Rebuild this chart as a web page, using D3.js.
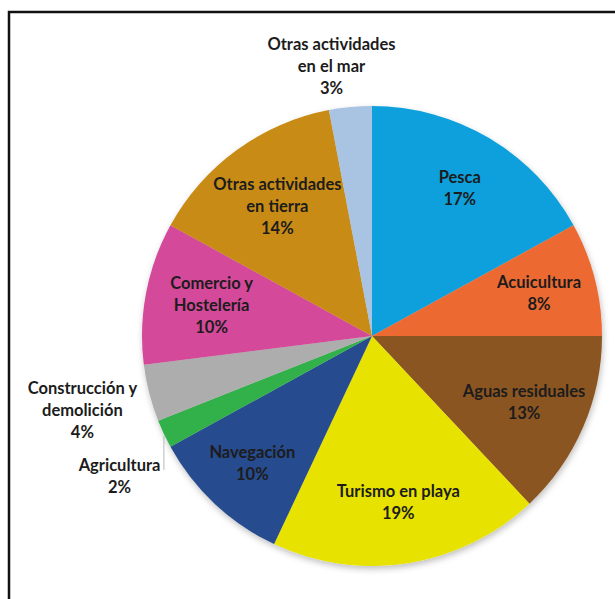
<!DOCTYPE html>
<html>
<head>
<meta charset="utf-8">
<script src="https://cdn.jsdelivr.net/npm/d3@7"></script>
<style>
  html, body { margin: 0; padding: 0; background: #fff; }
  svg { display: block; }
  text { font-family: Lato, "Open Sans", sans-serif; font-weight: 700; font-size: 16.5px; fill: #1c1c1c; }
</style>
</head>
<body>
<div id="chart"></div>
<script>
// Data -------------------------------------
var categories = [
  ['Pesca'],
  ['Acuicultura'],
  ['Aguas residuales'],
  ['Turismo en playa'],
  ['Navegación'],
  ['Agricultura'],
  ['Construcción y', 'demolición'],
  ['Comercio y', 'Hostelería'],
  ['Otras actividades', 'en tierra'],
  ['Otras actividades', 'en el mar']
];
var values = [17, 8, 13, 19, 10, 2, 4, 10, 14, 3];
var colors = ['#0aa0dc', '#ec6a30', '#8b5522', '#e8e200', '#264b8e',
              '#30b04a', '#adadad', '#d4499a', '#c88b12', '#a9c3e3'];

// Layout -------------------------------------
var width = 615, height = 599;
var cx = 372, cy = 336, radius = 230;
var lineH = 22;
// label distance from centre, as a share of the radius
var labelR = [0.75, 0.75, 0.72, 0.73, 0.76, 1.0, 1.3, 0.71, 0.70, 1.18];

var svg = d3.select('#chart').append('svg')
  .attr('width', width)
  .attr('height', height);

// soft shadow under the pie
var defs = svg.append('defs');
var f = defs.append('filter').attr('id', 'shadow')
  .attr('x', '-10%').attr('y', '-10%').attr('width', '120%').attr('height', '120%');
f.append('feDropShadow')
  .attr('dx', 1).attr('dy', 3).attr('stdDeviation', 3)
  .attr('flood-color', '#000').attr('flood-opacity', 0.25);

// frame (left and top edges)
svg.append('path')
  .attr('d', 'M9,' + height + 'V12H' + width)
  .attr('fill', 'none')
  .attr('stroke', '#111')
  .attr('stroke-width', 2.5);

var g = svg.append('g')
  .attr('transform', 'translate(' + cx + ',' + cy + ')');

var pie = d3.pie().value(function(d) { return d; }).sort(null);
var arcs = pie(values);

var arc = d3.arc().innerRadius(0).outerRadius(radius);

g.append('g').attr('filter', 'url(#shadow)')
  .selectAll('path')
  .data(arcs)
  .enter()
  .append('path')
  .attr('d', arc)
  .attr('fill', function(d, i) { return colors[i]; });

// Labels -------------------------------------
function polar(a, r) {
  return [Math.sin(a) * r, -Math.cos(a) * r];
}

arcs.forEach(function(d, i) {
  var mid = (d.startAngle + d.endAngle) / 2;
  var lines = categories[i].concat([values[i] + '%']);
  var p;

  if (categories[i][0] === 'Agricultura') {
    // leader line straight down from the slice edge
    var e = polar(mid, radius);
    g.append('line')
      .attr('x1', e[0]).attr('y1', e[1] + 2)
      .attr('x2', e[0]).attr('y2', e[1] + 36)
      .attr('stroke', '#b8b8b8')
      .attr('stroke-width', 1);
    var t = g.append('text').attr('text-anchor', 'middle');
    lines.forEach(function(s, k) {
      t.append('tspan').attr('x', 0).attr('y', k * lineH).text(s);
    });
    var w = t.node().getBBox().width;
    t.attr('transform', 'translate(' + (e[0] - 3 - w / 2) + ',' + (e[1] + 37) + ')');
    return;
  }

  p = polar(mid, radius * labelR[i]);
  if (i === values.length - 1) p[0] -= 15;
  var top = p[1] - (lines.length - 1) * lineH / 2 + 6;
  var txt = g.append('text').attr('text-anchor', 'middle');
  lines.forEach(function(s, k) {
    txt.append('tspan')
      .attr('x', p[0])
      .attr('y', top + k * lineH)
      .text(s);
  });
});
</script>
</body>
</html>
